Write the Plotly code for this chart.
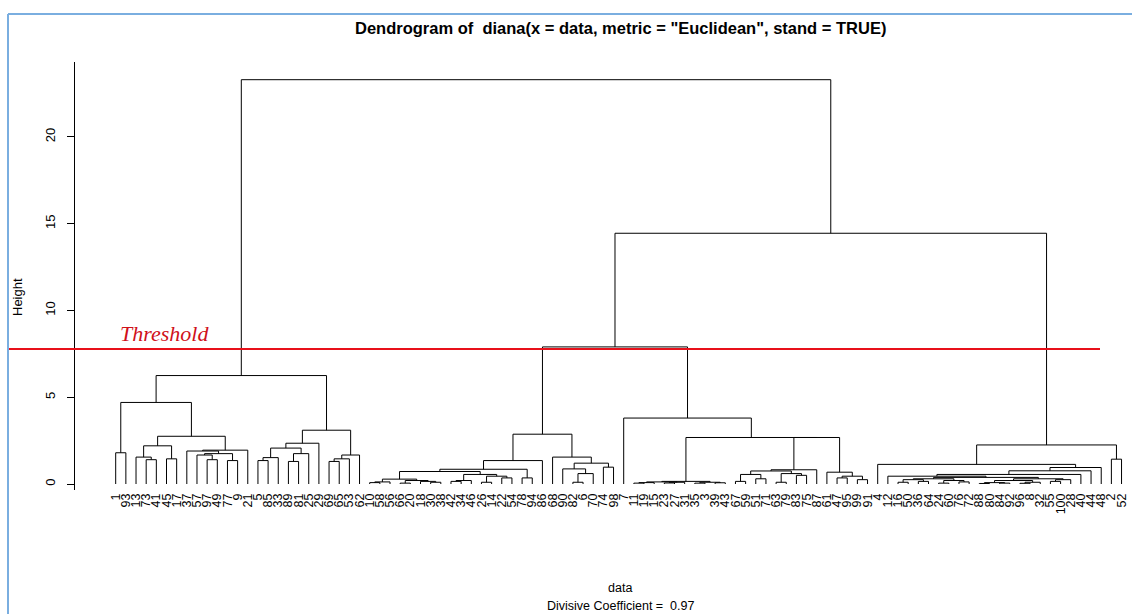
import plotly.graph_objects as go

# ---------------- data ----------------
# leaf labels in dendrogram order (left to right)
leaf_labels = [1, 93, 13, 73, 41, 45, 17, 37, 57, 97, 49, 77, 9, 21, 5, 85, 33, 89, 81, 25, 29, 69, 65, 53, 62,
               10, 58, 56, 66, 20, 18, 30, 38, 42, 34, 46, 26, 14, 22, 54, 78, 94, 86, 68, 90, 82, 6, 70, 74, 98,
               7, 11, 19, 15, 23, 27, 31, 35, 3, 39,
               43, 67, 59, 51, 71, 63, 79, 83, 75, 87, 61, 47, 95, 99, 91,
               4, 12, 16, 50, 36, 64, 24, 60, 76, 72, 88, 80, 84, 92, 96, 8, 32, 55, 100, 28, 40, 44, 48, 2, 52]

# sub-trees: [left, right, merge height]; integers are leaf positions
A1 = [0, 1, 1.8]
A2a = [[2, [3, 4, 1.4], 1.55], [5, 6, 1.45], 2.2]
A2y = [[8, [9, 10, 1.4], 1.67], [11, 12, 1.35], 1.75]
A2b = [[7, A2y, 1.9], 13, 1.95]
A = [A1, [A2a, A2b, 2.75], 4.7]
Lr_left = [[[[14, 15, 1.35], 16, 1.52], [[17, 18, 1.3], 19, 1.75], 2.07], 20, 2.35]
Lr_right = [[[21, 22, 1.3], 23, 1.45], 24, 1.67]
L = [A, [Lr_left, Lr_right, 3.1], 6.25]

N390 = [[[25, 26, 0.08], 27, 0.12], [[28, 29, 0.05], [30, [31, 32, 0.1], 0.15], 0.2], 0.28]
N493 = [[[33, 34, 0.15], 35, 0.2], [[36, 37, 0.1], [38, 39, 0.35], 0.45], 0.55]
M1a = [[[N390, N493, 0.72], [40, 41, 0.35], 0.85], 42, 1.35]
M1b = [43, [[44, [[45, 46, 0.1], 47, 0.6], 0.87], [48, 49, 0.97], 1.2], 1.55]
M1 = [M1a, M1b, 2.87]

S = [[[[51, 52, 0.05], 53, 0.08], [[54, 55, 0.06], 56, 0.1], 0.12], [[57, 58, 0.05], [59, 60, 0.07], 0.1], 0.15]
V1 = [[[61, 62, 0.15], [63, 64, 0.3], 0.55], [[65, 66, 0.1], [67, 68, 0.5], 0.6], 0.75]
T = [70, [[71, 72, 0.35], [73, 74, 0.25], 0.45], 0.68]
M2 = [50, [S, [[V1, 69, 0.82], T, 2.68], 2.68], 3.8]
M = [M1, M2, 7.9]

R1g = [[[77, 78, 0.1], [79, 80, 0.15], 0.25], [[81, 82, 0.05], [83, 84, 0.12], 0.2], 0.3]
R1h = [[[[85, 86, 0.03], [87, 88, 0.05], 0.08], [[89, 90, 0.04], 91, 0.1], 0.2], [[92, 93, 0.15], 94, 0.25], 0.3]
R1 = [75, [[[[76, [R1g, R1h, 0.38], 0.45], 95, 0.55], 96, 0.76], 97, 0.95], 1.13]
R = [R1, [98, 99, 1.43], 2.25]

root = [L, [M, R, 14.45], 23.3]

threshold_height = 7.78
y_ticks = [0, 5, 10, 15, 20]
title_text = 'Dendrogram of  diana(x = data, metric = "Euclidean", stand = TRUE)'
divisive_coef = 0.97

# ---------------- build segments ----------------
xs, ys = [], []


def walk(node):
    if isinstance(node, int):
        return float(node), 0.0
    left, right, h = node
    xl, hl = walk(left)
    xr, hr = walk(right)
    xs.extend([xl, xl, xr, xr, None])
    ys.extend([hl, h, h, hr, None])
    return (xl + xr) / 2.0, h


walk(root)

W, H = 1132, 614
ml, mr, mt, mb = 75, 0, 62, 124
pw, ph = W - ml - mr, H - mt - mb


def px_x(p):
    return (p - ml) / pw


def px_y(p):
    return (H - mb - p) / ph


fig = go.Figure()
fig.add_trace(go.Scatter(x=xs, y=ys, mode="lines",
                         line=dict(color="black", width=1), hoverinfo="skip",
                         showlegend=False))

fig.update_layout(
    width=W, height=H,
    margin=dict(l=ml, r=mr, t=mt, b=mb),
    paper_bgcolor="white", plot_bgcolor="white",
    font=dict(family="Liberation Sans, Arial", color="black"),
    xaxis=dict(range=[-4.006, 100.03], tickmode="array",
               tickvals=list(range(len(leaf_labels))),
               ticktext=[str(v) for v in leaf_labels],
               tickangle=-90, ticks="", showgrid=False, zeroline=False,
               showline=False, tickfont=dict(size=12.5)),
    yaxis=dict(range=[-0.346, 24.32], tickmode="array", tickvals=y_ticks,
               ticktext=[str(v) for v in y_ticks], tickangle=-90,
               ticks="outside", ticklen=7, tickcolor="black",
               showline=True, linecolor="black", linewidth=1,
               showgrid=False, zeroline=False, tickfont=dict(size=13),
               ticklabelstandoff=7),
)

shapes = [
    dict(type="line", xref="paper", yref="y", x0=px_x(8), x1=px_x(1100),
         y0=threshold_height, y1=threshold_height,
         line=dict(color="#e8101a", width=2)),
    dict(type="line", xref="paper", yref="paper", x0=px_x(8), x1=px_x(1132),
         y0=px_y(14), y1=px_y(14), line=dict(color="#7aaee0", width=2)),
    dict(type="line", xref="paper", yref="paper", x0=px_x(8), x1=px_x(8),
         y0=px_y(14), y1=px_y(614), line=dict(color="#7aaee0", width=2)),
]
fig.update_layout(shapes=shapes)

annotations = [
    dict(text="<b>" + title_text + "</b>", xref="paper", yref="paper",
         x=px_x(620), y=px_y(28), showarrow=False, xanchor="center", yanchor="middle",
         font=dict(size=16.5)),
    dict(text="Height", xref="paper", yref="paper", x=px_x(17), y=px_y(297),
         showarrow=False, textangle=-90, xanchor="center", yanchor="middle",
         font=dict(size=13)),
    dict(text="data", xref="paper", yref="paper", x=px_x(620), y=px_y(588),
         showarrow=False, xanchor="center", yanchor="middle", font=dict(size=12.5)),
    dict(text="Divisive Coefficient =  %.2f" % divisive_coef, xref="paper", yref="paper",
         x=px_x(620), y=px_y(605.5), showarrow=False, xanchor="center", yanchor="middle",
         font=dict(size=12.5)),
    dict(text="Threshold", xref="paper", yref="y", x=px_x(118), y=threshold_height + 0.9,
         showarrow=False, xanchor="left", yanchor="middle",
         font=dict(family="Liberation Serif, Times New Roman, serif", size=22,
                   color="#d0101a", style="italic")),
]
fig.update_layout(annotations=annotations)

fig.write_html("out.html", config={"displayModeBar": False},
               post_script="document.body.style.margin='0px';document.body.style.padding='0px';")
